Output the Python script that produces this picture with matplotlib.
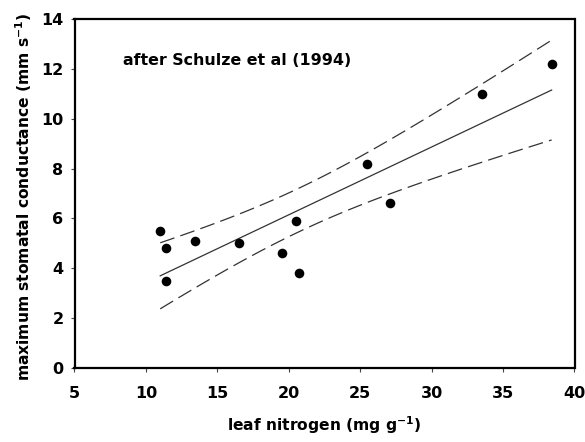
import numpy as np
import matplotlib
matplotlib.use("Agg")
import matplotlib.pyplot as plt

plt.rcParams['font.family'] = ['DejaVu Sans']
plt.rcParams['mathtext.fontset'] = 'dejavusans'

leaf_n = [11.0, 11.4, 11.4, 13.4, 16.5, 19.55, 20.5, 20.7, 25.5, 27.1, 33.55, 38.4]
gmax = [5.5, 4.8, 3.5, 5.1, 5.0, 4.6, 5.9, 3.8, 8.2, 6.6, 11.0, 12.2]

x = np.array(leaf_n)
y = np.array(gmax)
n = len(x)
b, a = np.polyfit(x, y, 1)
xs = np.linspace(x.min(), x.max(), 100)
yfit = a + b * xs
resid = y - (a + b * x)
s = np.sqrt(np.sum(resid**2) / (n - 2))
t = 2.228  # t(0.975, df=10)
se = s * np.sqrt(1.0 / n + (xs - x.mean())**2 / np.sum((x - x.mean())**2))
upper = yfit + t * se
lower = yfit - t * se

fig = plt.figure(figsize=(5.85, 4.42), dpi=100)
ax = fig.add_axes([74.5 / 585, 1 - 368 / 442, 500 / 585, 349 / 442])

ax.plot(xs, yfit, color='#333333', lw=0.9)
ax.plot(xs, upper, color='#333333', lw=0.9, dashes=(12, 5))
ax.plot(xs, lower, color='#333333', lw=0.9, dashes=(12, 5))
ax.scatter(x, y, s=48, color='black', zorder=3, linewidths=0)

ax.set_xlim(5, 40)
ax.set_ylim(0, 14)
ax.set_xticks(range(5, 41, 5))
ax.set_yticks(range(0, 15, 2))
for sp in ax.spines.values():
    sp.set_linewidth(1.6)
ax.tick_params(direction='out', length=3, width=0.8, labelsize=11.5, color='#444444')
ax.tick_params(axis='x', pad=10)
ax.tick_params(axis='y', pad=5)
for lab in ax.get_xticklabels() + ax.get_yticklabels():
    lab.set_fontweight('bold')

ax.set_xlabel('leaf nitrogen (mg g$^{\\mathbf{-1}}$)', fontsize=11.2, fontweight='bold', va='center')
ax.xaxis.set_label_coords(0.5, (368 - 425) / 349)
ax.set_ylabel('maximum stomatal conductance (mm s$^{\\mathbf{-1}}$)', fontsize=11.2, fontweight='bold', va='center')
ax.yaxis.set_label_coords((24 - 74.5) / 500, 0.49)
ax.text(8.4, 12.35, 'after Schulze et al (1994)', fontsize=11.4, fontweight='bold', va='center')

fig.savefig('out.png', dpi=100)
